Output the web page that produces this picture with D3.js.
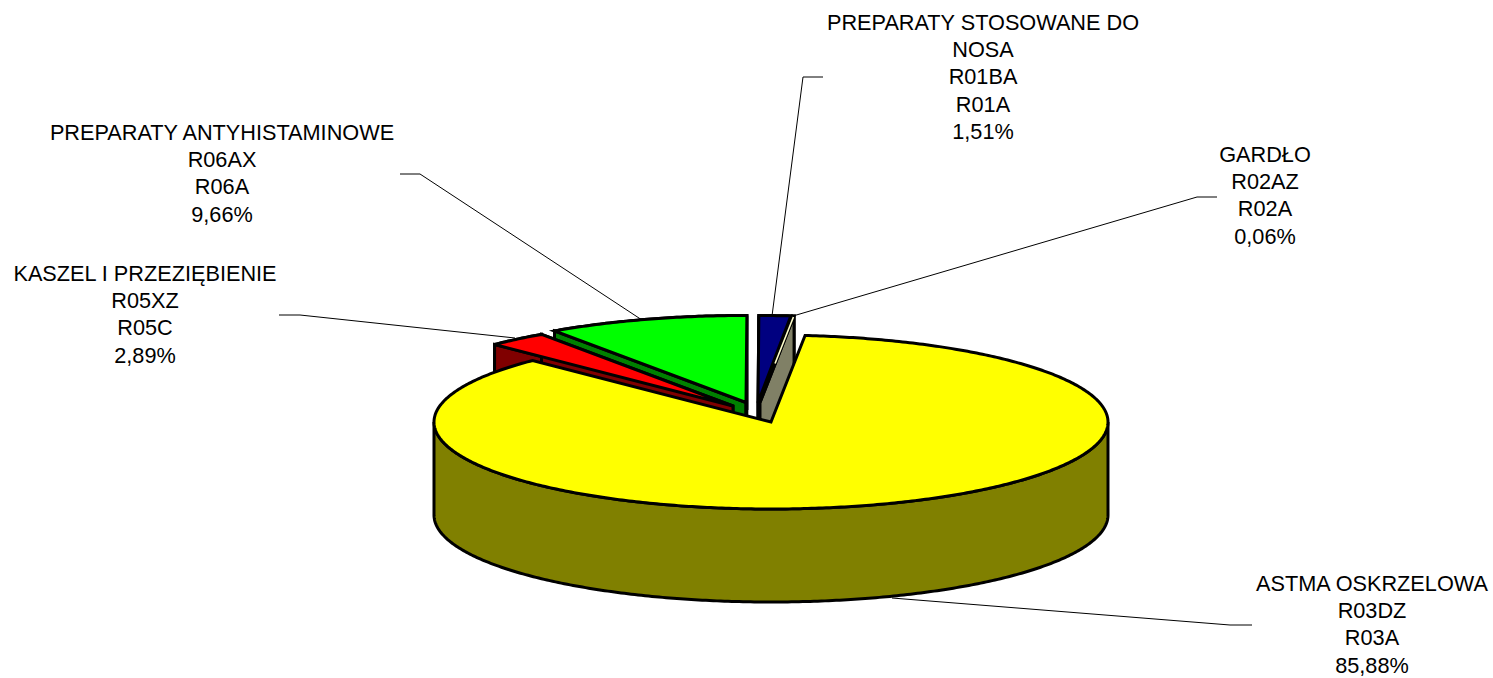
<!DOCTYPE html>
<html><head><meta charset="utf-8">
<script src="https://cdn.jsdelivr.net/npm/d3@7/dist/d3.min.js"></script>
<style>html,body{margin:0;padding:0;background:#fff}svg{display:block}text{font-family:"Liberation Sans",Arial,sans-serif;font-size:21.7px;fill:#000}</style>
</head><body><svg id="c" width="1493" height="678"></svg>
<script>
const names = ["ASTMA OSKRZELOWA","KASZEL I PRZEZIĘBIENIE","PREPARATY ANTYHISTAMINOWE","PREPARATY STOSOWANE DO NOSA","GARDŁO"];
const atc5 = ["R03DZ","R05XZ","R06AX","R01BA","R02AZ"];
const atc3 = ["R03A","R05C","R06A","R01A","R02A"];
const values = [85.88,2.89,9.66,1.51,0.06];
const pctLabels = ["85,88%","2,89%","9,66%","1,51%","0,06%"];
const topColors = ["#ffff00","#ff0000","#00ff00","#000080","#ffffcc"];
const wallColors = ["#808000","#800000","#008000","#000080","#808066"];

// layout
const cx=771, cy=422, rx=337, ry=87, depth=93;
const startDeg=5.8;
const offX=[0,-38,-25,-13,-11], offY=[0,-16,-19.5,-19.5,-19.5];
const drawOrder=[3,4,2,1,0];
const labelLines=[["ASTMA OSKRZELOWA"],["KASZEL I PRZEZIĘBIENIE"],["PREPARATY ANTYHISTAMINOWE"],["PREPARATY STOSOWANE DO","NOSA"],["GARDŁO"]];
const labelCx=[1372,145,222,983,1265], labelTop=[591,281,140,30,162];
const leaders=[
 [[892,598],[1230,625],[1252,625]],
 [[515,338],[300,315],[279,315]],
 [[642,320],[420,174],[400,174]],
 [[772,316],[803,77],[823,77]],
 [[793,316],[1197,197],[1217,197]]
];

const svg=d3.select("#c");
const arcs=d3.pie().sort(null).startAngle(startDeg*Math.PI/180).endAngle(startDeg*Math.PI/180+2*Math.PI)(values);
const line=d3.line();
const pt=(i,t,dz=0)=>[cx+offX[i]+rx*Math.sin(t),cy+offY[i]-ry*Math.cos(t)+dz];
const apex=(i,dz=0)=>[cx+offX[i],cy+offY[i]+dz];
const rim=(i,a,b,dz=0)=>{const n=Math.max(2,Math.ceil(Math.abs(b-a)*90));return d3.range(n+1).map(k=>pt(i,a+(b-a)*k/n,dz));};
const stroke=g=>g.attr("stroke","#000").attr("stroke-width",3).attr("stroke-linejoin","miter");

svg.append("g").selectAll("path").data(leaders).join("path")
  .attr("d",d=>line(d)).attr("fill","none").attr("stroke","#000").attr("stroke-width",1);

drawOrder.forEach(i=>{
  const a=arcs[i], g=svg.append("g");
  if(i===0){
    const w=[...rim(i,Math.PI/2,3*Math.PI/2,0),...rim(i,3*Math.PI/2,Math.PI/2,depth)];
    g.append("path").attr("d",line(w)+"Z").attr("fill",wallColors[i]).call(stroke);
  } else {
    g.append("path").attr("d",line([...rim(i,a.startAngle,a.endAngle),...rim(i,a.endAngle,a.startAngle,depth)])+"Z")
      .attr("fill",wallColors[i]).call(stroke);
    [a.startAngle,a.endAngle].forEach(t=>{
      g.append("path").attr("d",line([apex(i),pt(i,t),pt(i,t,depth),apex(i,depth)])+"Z")
       .attr("fill",wallColors[i]).call(stroke);
    });
  }
  g.append("path").attr("d",line([apex(i),...rim(i,a.startAngle,a.endAngle)])+"Z")
   .attr("fill",topColors[i]).call(stroke);
  if(i===4){
    // the very thin slice: keep its pale fill visible through the outline
    const mid=(a.startAngle+a.endAngle)/2, o=pt(i,mid), c=apex(i);
    g.append("path").attr("d",line([[o[0],o[1]+1],[o[0]+(c[0]-o[0])*0.55,o[1]+(c[1]-o[1])*0.55]]))
     .attr("stroke",topColors[i]).attr("stroke-width",1.6).attr("fill","none");
  }
});

names.forEach((n,i)=>{
  const rows=[...labelLines[i],atc5[i],atc3[i],pctLabels[i]];
  svg.append("g").selectAll("text").data(rows).join("text")
    .attr("x",labelCx[i]).attr("y",(d,k)=>labelTop[i]+k*27.2).attr("text-anchor","middle").text(d=>d);
});
</script></body></html>
